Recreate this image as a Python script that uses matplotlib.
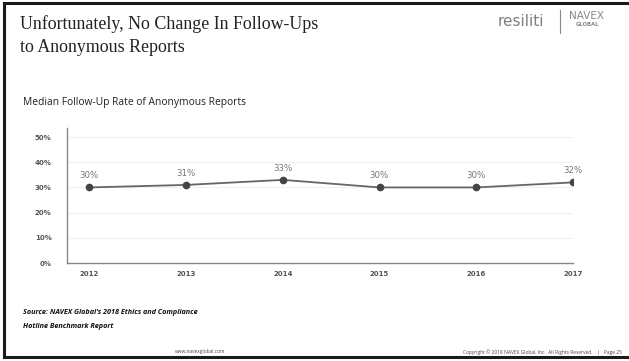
import matplotlib
matplotlib.use("Agg")
import matplotlib.pyplot as plt
from matplotlib.lines import Line2D

years = ["2012", "2013", "2014", "2015", "2016", "2017"]
rates = [30, 31, 33, 30, 30, 32]
yticks = [0, 10, 20, 30, 40, 50]

W, H = 629, 361
fig = plt.figure(figsize=(W / 100, H / 100), dpi=100)
fig.patch.set_facecolor("white")

# slide frame (left, top, bottom)
for xs, ys in [([4 / W, 4 / W], [4 / H, 1 - 3 / H]),
               ([4 / W, 1], [1 - 3 / H, 1 - 3 / H]),
               ([4 / W, 1], [4.5 / H, 4.5 / H])]:
    fig.add_artist(Line2D(xs, ys, color="#1a1a1a", lw=2.2, transform=fig.transFigure))

# title
fig.text(20 / W, 1 - 24 / H, "Unfortunately, No Change In Follow-Ups",
         family="Liberation Serif", fontsize=12.9, color="#222222", va="center")
fig.text(20 / W, 1 - 47 / H, "to Anonymous Reports",
         family="Liberation Serif", fontsize=12.9, color="#222222", va="center")

# logos
fig.text(521 / W, 1 - 22 / H, "resiliti", family="DejaVu Sans", fontsize=11,
         color="#808080", ha="center", va="center")
fig.add_artist(Line2D([560 / W, 560 / W], [1 - 10 / H, 1 - 33 / H],
                      color="#888888", lw=0.8, transform=fig.transFigure))
fig.text(587 / W, 1 - 16 / H, "NAVEX", family="DejaVu Sans", fontsize=7.5,
         color="#888888", ha="center", va="center")
fig.text(587 / W, 1 - 25 / H, "GLOBAL", family="DejaVu Sans", fontsize=3.8,
         color="#888888", ha="center", va="center", fontweight="bold")

# chart subtitle
fig.text(23 / W, 1 - 102 / H, "Median Follow-Up Rate of Anonymous Reports",
         family="Open Sans", fontsize=7.4, color="#222222", va="center")

# axes
left, right = 67, 573
top, bottom = 128, 263
ax = fig.add_axes([left / W, 1 - bottom / H, (right - left) / W, (bottom - top) / H])
x = list(range(len(years)))
ax.plot(x, rates, color="#666666", lw=1.3, marker="o", markersize=4.5,
        markerfacecolor="#444444", markeredgecolor="#444444", zorder=3)
for xi, v in zip(x, rates):
    ax.annotate(f"{v}%", (xi, v), xytext=(0, 5), textcoords="offset points",
                ha="center", va="bottom", fontsize=6.2, color="#777777",
                family="DejaVu Sans")

ax.set_xlim(-0.23, len(years) - 1)
ax.set_ylim(0, 53.6)
ax.set_yticks(yticks)
ax.set_yticklabels([f"{t}%" for t in yticks])
ax.set_xticks(x)
ax.set_xticklabels(years)
ax.grid(axis="y", color="#f0f0f0", lw=0.8)
ax.set_axisbelow(True)
for s in ["top", "right"]:
    ax.spines[s].set_visible(False)
for s in ["left", "bottom"]:
    ax.spines[s].set_color("#888888")
    ax.spines[s].set_linewidth(1.0)
ax.tick_params(length=0, labelsize=5, labelcolor="#555555")
ax.tick_params(axis="y", pad=11)
ax.tick_params(axis="x", pad=6)
for lab in ax.get_xticklabels() + ax.get_yticklabels():
    lab.set_fontweight("bold")

# source
fig.text(23 / W, 1 - 313 / H, "Source: NAVEX Global's 2018 Ethics and Compliance",
         family="Open Sans", fontsize=5.2, fontweight="bold", style="italic",
         color="#111111", va="center")
fig.text(23 / W, 1 - 326 / H, "Hotline Benchmark Report",
         family="Open Sans", fontsize=5.2, fontweight="bold", style="italic",
         color="#111111", va="center")

# footer
fig.text(200 / W, 1 - 352 / H, "www.navexglobal.com", family="Open Sans",
         fontsize=3.5, color="#444444", ha="center", va="center")
fig.text(622 / W, 1 - 352 / H,
         "Copyright \u00a9 2018 NAVEX Global, Inc.  All Rights Reserved.    |   Page 25",
         family="Open Sans", fontsize=3.5, color="#444444", ha="right", va="center")

fig.savefig("out.png", dpi=100)
